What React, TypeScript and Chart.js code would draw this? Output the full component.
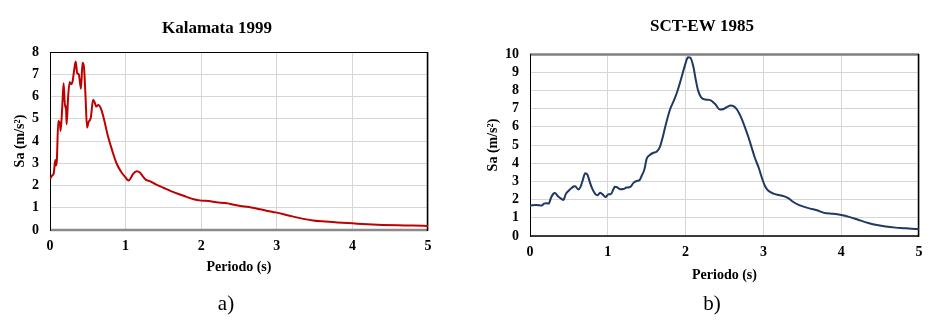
import React, { useEffect, useRef } from "react";
import { Chart, registerables } from "chart.js";

Chart.register(...registerables);

// ---------- Data ----------
const periodsA = [0.0, 0.03, 0.05, 0.07, 0.08, 0.09, 0.11, 0.13, 0.14, 0.16, 0.18, 0.2, 0.21, 0.22, 0.24, 0.26, 0.28, 0.3, 0.32, 0.34, 0.36, 0.38, 0.41, 0.43, 0.45, 0.47, 0.49, 0.51, 0.54, 0.57, 0.59, 0.61, 0.64, 0.68, 0.72, 0.76, 0.82, 0.88, 0.94, 0.99, 1.04, 1.07, 1.1, 1.15, 1.19, 1.23, 1.27, 1.32, 1.4, 1.5, 1.6, 1.7, 1.8, 1.9, 2.0, 2.1, 2.2, 2.34, 2.45, 2.52, 2.63, 2.73, 2.85, 3.0, 3.1, 3.22, 3.35, 3.48, 3.6, 3.8, 4.0, 4.2, 4.4, 4.6, 4.8, 5.0];
const saA = [2.3, 2.45, 2.55, 3.15, 2.9, 3.1, 4.9, 4.8, 4.45, 5.4, 6.6, 5.5, 5.6, 4.75, 6.0, 6.65, 6.55, 6.7, 7.2, 7.57, 7.05, 7.0, 6.35, 7.52, 7.3, 6.0, 4.6, 4.85, 5.05, 5.85, 5.75, 5.55, 5.62, 5.4, 4.9, 4.3, 3.6, 3.0, 2.62, 2.4, 2.22, 2.35, 2.52, 2.64, 2.58, 2.4, 2.25, 2.2, 2.05, 1.9, 1.75, 1.62, 1.5, 1.38, 1.32, 1.3, 1.25, 1.2, 1.12, 1.08, 1.03, 0.97, 0.88, 0.78, 0.7, 0.6, 0.5, 0.43, 0.39, 0.34, 0.3, 0.26, 0.23, 0.21, 0.2, 0.18];

const periodsB = [0.0, 0.08, 0.15, 0.18, 0.21, 0.24, 0.27, 0.3, 0.32, 0.36, 0.4, 0.43, 0.46, 0.5, 0.53, 0.56, 0.58, 0.62, 0.65, 0.68, 0.71, 0.74, 0.77, 0.8, 0.84, 0.87, 0.9, 0.93, 0.97, 1.01, 1.04, 1.07, 1.09, 1.12, 1.16, 1.2, 1.24, 1.29, 1.33, 1.37, 1.41, 1.44, 1.47, 1.5, 1.54, 1.58, 1.63, 1.67, 1.71, 1.75, 1.8, 1.85, 1.89, 1.95, 2.0, 2.03, 2.06, 2.1, 2.13, 2.16, 2.2, 2.25, 2.31, 2.38, 2.44, 2.49, 2.53, 2.58, 2.62, 2.66, 2.72, 2.76, 2.81, 2.85, 2.89, 2.94, 2.98, 3.02, 3.06, 3.13, 3.2, 3.27, 3.33, 3.38, 3.46, 3.59, 3.7, 3.78, 3.9, 4.0, 4.1, 4.2, 4.36, 4.46, 4.57, 4.7, 4.8, 4.9, 5.0];
const saB = [1.68, 1.7, 1.68, 1.78, 1.8, 1.78, 2.1, 2.32, 2.36, 2.18, 2.05, 1.98, 2.3, 2.5, 2.62, 2.72, 2.74, 2.56, 2.7, 3.1, 3.45, 3.35, 2.95, 2.6, 2.3, 2.24, 2.38, 2.3, 2.14, 2.3, 2.3, 2.55, 2.7, 2.68, 2.57, 2.58, 2.66, 2.7, 2.92, 3.02, 3.08, 3.35, 3.65, 4.25, 4.45, 4.56, 4.64, 4.9, 5.5, 6.2, 6.95, 7.45, 7.9, 8.75, 9.5, 9.82, 9.8, 9.3, 8.6, 8.0, 7.62, 7.5, 7.48, 7.25, 6.95, 6.98, 7.08, 7.17, 7.12, 6.95, 6.45, 6.0, 5.4, 4.85, 4.3, 3.75, 3.2, 2.75, 2.5, 2.33, 2.25, 2.18, 2.05, 1.88, 1.7, 1.52, 1.4, 1.27, 1.22, 1.15, 1.05, 0.92, 0.7, 0.6, 0.52, 0.46, 0.43, 0.4, 0.38];

const titleA = "Kalamata 1999";
const titleB = "SCT-EW 1985";
const xAxisTitle = "Periodo (s)";
const yAxisTitle = "Sa (m/s²)";
const xMin = 0, xMax = 5;
const yMaxA = 8, yMaxB = 10;

const SERIF = "'Liberation Serif', 'Times New Roman', serif";

type Side = { color: string; width: number };
type Cfg = {
  periods: number[];
  values: number[];
  yMax: number;
  title: string;
  color: string;
  pad: { left: number; right: number; top: number; bottom: number };
  titlePad: { top: number; bottom: number };
  yWidth: number;
  yTitlePadTop: number;
  xHeight: number;
  xTitlePadBottom: number;
  borders: { top: Side; right: Side; bottom: Side; left: Side };
};

const borderPlugin = {
  id: "plotBorder",
  beforeDatasetsDraw(chart: any, _a: any, opts: any) {
    const { ctx, chartArea: a } = chart;
    const b = opts.sides;
    if (!b) return;
    ctx.save();
    const line = (x1: number, y1: number, x2: number, y2: number, s: Side) => {
      ctx.beginPath();
      ctx.strokeStyle = s.color;
      ctx.lineWidth = s.width;
      ctx.moveTo(x1, y1);
      ctx.lineTo(x2, y2);
      ctx.stroke();
    };
    const L = Math.round(a.left) + 0.5;
    const R = Math.round(a.right) - 0.5;
    const T = Math.round(a.top) + 0.5;
    const B = Math.round(a.bottom);
    line(L, B, R + 0.5, B, b.bottom);
    line(L - 0.5, T, R + 0.5, T, b.top);
    line(L, T - 0.5, L, B + 1, b.left);
    line(R, T - 0.5, R, B + 1, b.right);
    ctx.restore();
  },
};

function SpectrumChart({ cfg, left, width }: { cfg: Cfg; left: number; width: number }) {
  const ref = useRef<HTMLCanvasElement | null>(null);
  useEffect(() => {
    if (!ref.current) return;
    const pts = cfg.periods.map((p, i) => ({ x: p, y: cfg.values[i] }));
    const chart = new Chart(ref.current, {
      type: "line",
      data: {
        datasets: [
          {
            data: pts,
            borderColor: cfg.color,
            borderWidth: 2,
            pointRadius: 0,
            fill: false,
            cubicInterpolationMode: "monotone",
          },
        ],
      },
      plugins: [borderPlugin],
      options: {
        responsive: false,
        animation: false,
        devicePixelRatio: 1,
        layout: { padding: cfg.pad },
        plugins: {
          legend: { display: false },
          tooltip: { enabled: false },
          title: {
            display: true,
            text: cfg.title,
            color: "#000",
            font: { family: SERIF, size: 17, weight: "bold", lineHeight: 1.2 },
            padding: cfg.titlePad,
          },
          plotBorder: { sides: cfg.borders },
        } as any,
        scales: {
          x: {
            type: "linear",
            min: xMin,
            max: xMax,
            border: { display: false },
            grid: { color: "#d6d6d6", lineWidth: 1, drawTicks: false },
            ticks: {
              stepSize: 1,
              autoSkip: false,
              padding: 8,
              color: "#000",
              font: { family: SERIF, size: 14, weight: "bold" },
              maxRotation: 0,
            },
            title: {
              display: true,
              text: xAxisTitle,
              color: "#000",
              font: { family: SERIF, size: 14, weight: "bold", lineHeight: 1.2 },
              padding: { top: 0, bottom: cfg.xTitlePadBottom },
            },
            afterFit: (s: any) => {
              s.height = cfg.xHeight;
            },
          },
          y: {
            type: "linear",
            min: 0,
            max: cfg.yMax,
            border: { display: false },
            grid: { color: "#d6d6d6", lineWidth: 1, drawTicks: false },
            ticks: {
              stepSize: 1,
              autoSkip: false,
              padding: 11,
              color: "#000",
              font: { family: SERIF, size: 14, weight: "bold" },
            },
            title: {
              display: true,
              text: yAxisTitle,
              color: "#000",
              font: { family: SERIF, size: 14, weight: "bold", lineHeight: 1.2 },
              padding: { top: cfg.yTitlePadTop, bottom: 0 },
            },
            afterFit: (s: any) => {
              s.width = cfg.yWidth;
            },
          },
        },
      } as any,
    });
    return () => chart.destroy();
  }, [cfg]);
  return (
    <canvas
      ref={ref}
      width={width}
      height={326}
      style={{ position: "absolute", left, top: 0, width, height: 326 }}
    />
  );
}

const cfgA: Cfg = {
  periods: periodsA,
  values: saA,
  yMax: yMaxA,
  title: titleA,
  color: "#c00000",
  pad: { left: 6, right: 42, top: 0, bottom: 46 },
  titlePad: { top: 18, bottom: 13.6 },
  yWidth: 44,
  yTitlePadTop: 5.6,
  xHeight: 50,
  xTitlePadBottom: 4.6,
  borders: {
    top: { color: "#000", width: 1 },
    right: { color: "#000", width: 1.5 },
    bottom: { color: "#8a8a8a", width: 2.5 },
    left: { color: "#000", width: 1 },
  },
};

const cfgB: Cfg = {
  periods: periodsB,
  values: saB,
  yMax: yMaxB,
  title: titleB,
  color: "#1f3864",
  pad: { left: 15, right: 22, top: 0, bottom: 40 },
  titlePad: { top: 16.8, bottom: 16.8 },
  yWidth: 45,
  yTitlePadTop: 0,
  xHeight: 50,
  xTitlePadBottom: 2.6,
  borders: {
    top: { color: "#7f7f7f", width: 2.5 },
    right: { color: "#000", width: 1.5 },
    bottom: { color: "#000", width: 1.5 },
    left: { color: "#000", width: 1 },
  },
};

const captionStyle = (cx: number): React.CSSProperties => ({
  position: "absolute",
  left: cx - 50,
  width: 100,
  top: 290,
  lineHeight: "26px",
  textAlign: "center",
  fontFamily: SERIF,
  fontSize: 21,
  color: "#000",
});

export default function App() {
  return (
    <div style={{ position: "absolute", left: 0, top: 0, width: 941, height: 326, background: "#fff", overflow: "hidden" }}>
      <SpectrumChart cfg={cfgA} left={0} width={470} />
      <SpectrumChart cfg={cfgB} left={470} width={471} />
      <div style={captionStyle(226)}>a)</div>
      <div style={captionStyle(712)}>b)</div>
    </div>
  );
}
